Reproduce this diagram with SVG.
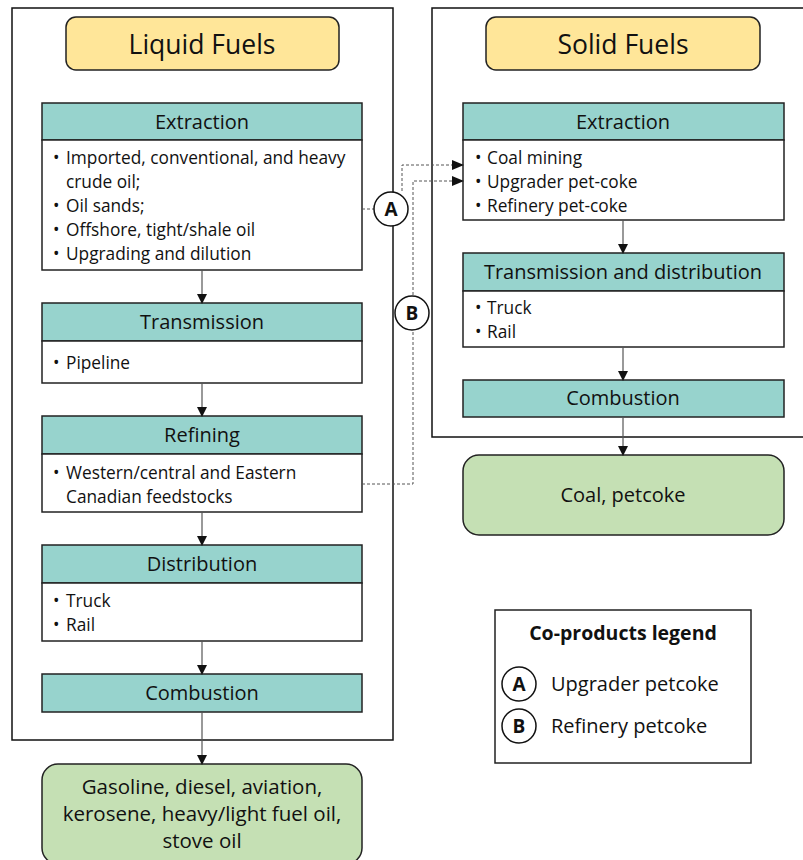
<svg xmlns="http://www.w3.org/2000/svg" width="803" height="860" viewBox="0 0 803 860">
<style>
text{font-family:"Open Sans","Liberation Sans",sans-serif;fill:#111}
.frame{fill:none;stroke:#111;stroke-width:1.5}
.title{fill:#FFE699;stroke:#222;stroke-width:1.5}
.hdr{fill:#97D3CD;stroke:#222;stroke-width:1.5}
.body{fill:#fff;stroke:#222;stroke-width:1.5}
.out{fill:#C5E0B4;stroke:#222;stroke-width:1.5}
.t24{font-size:26.5px}
.t18{font-size:20px}
.t16{font-size:17.3px}
.circ{fill:#fff;stroke:#111;stroke-width:1.5}
.lt{font-size:19px;font-weight:bold}
.lg{font-size:19.5px;font-weight:bold}
.arr{stroke:#555;stroke-width:1.2;fill:none}
.dash{stroke:#555;stroke-width:1;fill:none;stroke-dasharray:3,2}
</style>
<defs>
<marker id="ah" markerWidth="10" markerHeight="10" refX="9" refY="5" orient="auto" markerUnits="userSpaceOnUse">
<path d="M0,0 L10,5 L0,10 z" fill="#111"/>
</marker>
<marker id="ahd" markerWidth="12" markerHeight="10" refX="11" refY="5" orient="auto" markerUnits="userSpaceOnUse">
<path d="M0,0 L12,5 L0,10 z" fill="#111"/>
</marker>
</defs>
<rect class="frame" x="12" y="8" width="381" height="732"/>
<rect class="frame" x="432" y="8" width="380" height="429"/>
<g id="liquid-title"><rect class="title" x="66" y="17" width="273" height="53" rx="10"/><text class="t24" x="202" y="54" text-anchor="middle">Liquid Fuels</text></g>
<g id="solid-title"><rect class="title" x="486" y="17" width="274" height="53" rx="10"/><text class="t24" x="623" y="54" text-anchor="middle">Solid Fuels</text></g>
<g id="l-extraction">
<rect class="hdr" x="42" y="103" width="320" height="37"/><text class="t18" x="202" y="129" text-anchor="middle">Extraction</text>
<rect class="body" x="42" y="140" width="320" height="130"/>
<text class="t16"><tspan x="53" y="164">•</tspan><tspan x="66" y="164">Imported, conventional, and heavy</tspan><tspan x="66" y="188">crude oil;</tspan><tspan x="53" y="212">•</tspan><tspan x="66" y="212">Oil sands;</tspan><tspan x="53" y="236">•</tspan><tspan x="66" y="236">Offshore, tight/shale oil</tspan><tspan x="53" y="260">•</tspan><tspan x="66" y="260">Upgrading and dilution</tspan></text>
</g>
<g id="l-transmission">
<rect class="hdr" x="42" y="303" width="320" height="38"/><text class="t18" x="202" y="329" text-anchor="middle">Transmission</text>
<rect class="body" x="42" y="341" width="320" height="42"/>
<text class="t16"><tspan x="53" y="369">•</tspan><tspan x="66" y="369">Pipeline</tspan></text>
</g>
<g id="l-refining">
<rect class="hdr" x="42" y="416" width="320" height="38"/><text class="t18" x="202" y="442" text-anchor="middle">Refining</text>
<rect class="body" x="42" y="454" width="320" height="58"/>
<text class="t16"><tspan x="53" y="479">•</tspan><tspan x="66" y="479">Western/central and Eastern</tspan><tspan x="66" y="503">Canadian feedstocks</tspan></text>
</g>
<g id="l-distribution">
<rect class="hdr" x="42" y="545" width="320" height="38"/><text class="t18" x="202" y="571" text-anchor="middle">Distribution</text>
<rect class="body" x="42" y="583" width="320" height="58"/>
<text class="t16"><tspan x="53" y="607">•</tspan><tspan x="66" y="607">Truck</tspan><tspan x="53" y="631">•</tspan><tspan x="66" y="631">Rail</tspan></text>
</g>
<g id="l-combustion"><rect class="hdr" x="42" y="674" width="320" height="38"/><text class="t18" x="202" y="700" text-anchor="middle">Combustion</text></g>
<g id="l-output"><rect class="out" x="42" y="764" width="320" height="100" rx="16"/>
<text class="t18" text-anchor="middle" style="font-size:20.5px"><tspan x="202" y="794">Gasoline, diesel, aviation,</tspan><tspan x="202" y="821">kerosene, heavy/light fuel oil,</tspan><tspan x="202" y="848">stove oil</tspan></text></g>
<g id="s-extraction">
<rect class="hdr" x="463" y="103" width="321" height="37"/><text class="t18" x="623" y="129" text-anchor="middle">Extraction</text>
<rect class="body" x="463" y="140" width="321" height="80"/>
<text class="t16"><tspan x="475" y="164">•</tspan><tspan x="487" y="164">Coal mining</tspan><tspan x="475" y="188">•</tspan><tspan x="487" y="188">Upgrader pet-coke</tspan><tspan x="475" y="212">•</tspan><tspan x="487" y="212">Refinery pet-coke</tspan></text>
</g>
<g id="s-transdist">
<rect class="hdr" x="463" y="253" width="321" height="38"/><text class="t18" x="623" y="279" text-anchor="middle">Transmission and distribution</text>
<rect class="body" x="463" y="291" width="321" height="56"/>
<text class="t16"><tspan x="475" y="314">•</tspan><tspan x="487" y="314">Truck</tspan><tspan x="475" y="338">•</tspan><tspan x="487" y="338">Rail</tspan></text>
</g>
<g id="s-combustion"><rect class="hdr" x="463" y="380" width="321" height="37"/><text class="t18" x="623" y="405" text-anchor="middle">Combustion</text></g>
<g id="s-output"><rect class="out" x="463" y="455" width="321" height="80" rx="16"/><text class="t18" x="623" y="502" text-anchor="middle">Coal, petcoke</text></g>
<g id="connectors">
<line class="arr" x1="202" y1="270" x2="202" y2="303" marker-end="url(#ah)"/>
<line class="arr" x1="202" y1="383" x2="202" y2="416" marker-end="url(#ah)"/>
<line class="arr" x1="202" y1="512" x2="202" y2="545" marker-end="url(#ah)"/>
<line class="arr" x1="202" y1="641" x2="202" y2="674" marker-end="url(#ah)"/>
<line class="arr" x1="202" y1="712" x2="202" y2="764" marker-end="url(#ah)"/>
<line class="arr" x1="623" y1="220" x2="623" y2="253" marker-end="url(#ah)"/>
<line class="arr" x1="623" y1="347" x2="623" y2="380" marker-end="url(#ah)"/>
<line class="arr" x1="623" y1="417" x2="623" y2="455" marker-end="url(#ah)"/>
<path class="dash" d="M362,209 H374"/>
<path class="dash" d="M402,191 V165 H463" marker-end="url(#ahd)"/>
<path class="dash" d="M362,484 H413 V181 H463" marker-end="url(#ahd)"/>
</g>
<g id="marker-a"><circle class="circ" cx="391" cy="209" r="17"/><text class="lt" x="391" y="216" text-anchor="middle">A</text></g>
<g id="marker-b"><circle class="circ" cx="412" cy="313" r="17"/><text class="lt" x="412" y="320" text-anchor="middle">B</text></g>
<g id="legend">
<rect class="body" x="495" y="610" width="256" height="153"/>
<text class="lg" x="623" y="640" text-anchor="middle">Co-products legend</text>
<circle class="circ" cx="519" cy="684" r="17"/><text class="lt" x="519" y="691" text-anchor="middle">A</text>
<text class="t18" x="551" y="691">Upgrader petcoke</text>
<circle class="circ" cx="519" cy="726" r="17"/><text class="lt" x="519" y="733" text-anchor="middle">B</text>
<text class="t18" x="551" y="733">Refinery petcoke</text>
</g>
</svg>
